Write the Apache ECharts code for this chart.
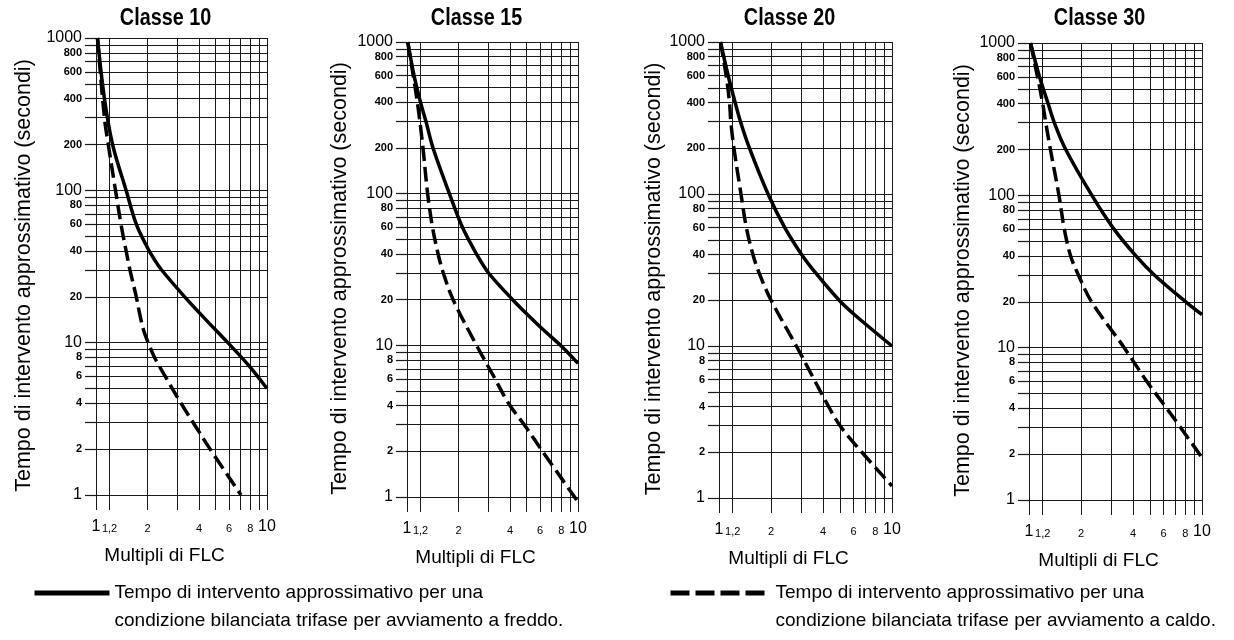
<!DOCTYPE html>
<html>
<head>
<meta charset="utf-8">
<script src="https://cdn.jsdelivr.net/npm/echarts@6/dist/echarts.min.js"></script>
<style>
  html, body { margin: 0; padding: 0; background: #fff; }
  #main { width: 1234px; height: 640px; }
</style>
</head>
<body>
<div id="main"></div>
<script>
// titoli dei pannelli
var classi = ['Classe 10', 'Classe 15', 'Classe 20', 'Classe 30'];

// curve: [multipli di FLC, secondi]
var classe10Freddo = [[1.02,1000],[1.12,400],[1.25,200],[1.5,100],[1.72,60],[2.0,42],[2.2,35],[2.42,30],[3.3,20],[4.3,14.5],[5.9,10],[7.9,7],[10,5]];
var classe10Caldo  = [[1.02,1000],[1.12,300],[1.18,200],[1.30,100],[1.40,60],[1.50,40],[1.58,30],[1.72,20],[1.80,15.5],[1.90,12],[2.02,10],[2.2,8],[2.5,6.2],[3.1,4.1],[3.8,2.85],[4.65,2.0],[7.05,1]];

var classe15Freddo = [[1.01,1000],[1.1,600],[1.2,400],[1.29,300],[1.42,200],[1.77,100],[2.11,60],[2.55,40],[3.0,30],[4.15,20],[5.2,15.5],[6.2,12.8],[7.9,10],[10,7.6]];
var classe15Caldo  = [[1.01,1000],[1.15,400],[1.24,200],[1.32,100],[1.41,60],[1.52,40],[1.63,30],[1.86,20],[2.55,10],[3.2,6.3],[3.95,4.1],[4.95,2.9],[6.2,2],[10,0.93]];

var classe20Freddo = [[1.02,1000],[1.13,600],[1.24,400],[1.33,300],[1.50,200],[1.92,100],[2.4,60],[3.0,40],[3.64,30],[4.95,20],[6.1,16],[10,10]];
var classe20Caldo  = [[1.02,1000],[1.1,600],[1.15,400],[1.17,300],[1.22,200],[1.34,100],[1.44,60],[1.57,40],[1.71,30],[2.0,20],[2.8,10],[3.5,6.2],[4.2,4.2],[5.0,3.0],[6.7,2.0],[10,1.2]];

var classe30Freddo = [[1.02,1000],[1.15,600],[1.29,400],[1.40,300],[1.63,200],[2.31,100],[3.1,60],[4.15,40],[5.3,30],[8.05,20],[10,16.5]];
var classe30Caldo  = [[1.02,1000],[1.12,600],[1.2,400],[1.25,300],[1.33,200],[1.49,100],[1.60,60],[1.74,40],[1.93,30],[2.3,20],[3.55,10],[4.8,6],[6.25,4],[7.5,3],[10,1.9]];

var curveFreddo = [classe10Freddo, classe15Freddo, classe20Freddo, classe30Freddo];
var curveCaldo  = [classe10Caldo, classe15Caldo, classe20Caldo, classe30Caldo];

// linee della griglia ed etichette degli assi
var xGriglia   = [1, 1.2, 2, 3, 4, 5, 6, 7, 8, 9, 10];
var xEtichette = [1, 1.2, 2, 4, 6, 8, 10];
var yGriglia   = [1,2,3,4,5,6,7,8,9,10,20,30,40,50,60,70,80,90,100,200,300,400,500,600,700,800,900,1000];
var yEtichette = [1,2,4,6,8,10,20,40,60,80,100,200,400,600,800,1000];
var yPrincipali = [1, 10, 100, 1000];

var testoFreddo = 'Tempo di intervento approssimativo per una\ncondizione bilanciata trifase per avviamento a freddo.';
var testoCaldo  = 'Tempo di intervento approssimativo per una\ncondizione bilanciata trifase per avviamento a caldo.';

// posizione dei quattro pannelli
var pannelli = [
    {left: 96,   top: 38, width: 171, height: 457, nameGap: 61},
    {left: 407,  top: 42, width: 171, height: 455, nameGap: 56},
    {left: 719,  top: 42, width: 173, height: 456, nameGap: 54},
    {left: 1029, top: 43, width: 173, height: 457, nameGap: 55}
];

var FONT = "'Liberation Sans', Arial, sans-serif";
var LINEA = '#1a1a1a';

var myChart = echarts.init(document.getElementById('main'), null, {renderer: 'canvas'});

var grids = [], xAxes = [], yAxes = [], series = [], graphics = [];

pannelli.forEach(function (p, i) {
    grids.push({left: p.left, top: p.top, width: p.width, height: p.height, containLabel: false});

    xAxes.push({
        type: 'log', logBase: 10, min: 1, max: 10, gridIndex: i,
        name: 'Multipli di FLC', nameLocation: 'middle', nameGap: 51,
        nameTextStyle: {fontFamily: FONT, fontSize: 19, color: '#000', padding: [0, 34, 0, 0]},
        axisLine: {show: false},
        axisTick: {show: true, length: 15, customValues: xGriglia, lineStyle: {color: LINEA, width: 1}},
        splitLine: {show: true, lineStyle: {color: LINEA, width: 1}},
        axisLabel: {
            customValues: xEtichette, margin: 23, color: '#000', fontFamily: FONT,
            formatter: function (v) {
                var t = String(v).replace('.', ',');
                return (v === 1 || v === 10) ? '{b|' + t + '}' : '{s|' + t + '}';
            },
            rich: {
                b: {fontSize: 16, fontFamily: FONT, color: '#000', lineHeight: 18},
                s: {fontSize: 11, fontFamily: FONT, color: '#000', lineHeight: 18, padding: [4, 0, 0, 0]}
            }
        }
    });

    yAxes.push({
        type: 'log', logBase: 10, min: 1, max: 1000, gridIndex: i,
        name: 'Tempo di intervento approssimativo (secondi)', nameLocation: 'middle', nameGap: p.nameGap,
        nameTextStyle: {fontFamily: FONT, fontSize: 21.5, color: '#000', padding: [0, 18, 0, 0]},
        axisLine: {show: false},
        axisTick: {show: true, length: 11, customValues: yGriglia, lineStyle: {color: LINEA, width: 1.2}},
        splitLine: {show: true, lineStyle: {color: LINEA, width: 1.2}},
        axisLabel: {
            customValues: yEtichette, margin: 14, color: '#000', fontFamily: FONT,
            formatter: function (v) {
                return yPrincipali.indexOf(v) >= 0 ? '{b|' + v + '}' : '{s|' + v + '}';
            },
            rich: {
                b: {fontSize: 16, fontFamily: FONT, color: '#000'},
                s: {fontSize: 11, fontFamily: FONT, color: '#000', fontWeight: 'bold'}
            }
        }
    });

    series.push({
        name: 'freddo', type: 'line', xAxisIndex: i, yAxisIndex: i,
        data: curveFreddo[i], symbol: 'none', smooth: 0.35, clip: false,
        itemStyle: {color: '#000'},
        lineStyle: {color: '#000', width: 3.5}
    });
    series.push({
        name: 'caldo', type: 'line', xAxisIndex: i, yAxisIndex: i,
        data: curveCaldo[i], symbol: 'none', smooth: 0.35, clip: false,
        itemStyle: {color: '#000'},
        lineStyle: {color: '#000', width: 3.5, type: [15, 6]}
    });

    // titolo del pannello (carattere stretto come nell'originale)
    graphics.push({
        type: 'text', x: p.left + p.width / 2 - 16, y: 19, scaleX: 0.86, silent: true,
        style: {
            text: classi[i], align: 'center', verticalAlign: 'middle',
            font: "bold 23px 'Liberation Sans', Arial, sans-serif", fill: '#000'
        }
    });
});

var testoLegenda = {fontFamily: FONT, fontSize: 19, color: '#000', lineHeight: 28};

myChart.setOption({
    animation: false,
    backgroundColor: '#fff',
    grid: grids,
    xAxis: xAxes,
    yAxis: yAxes,
    series: series,
    graphic: graphics,
    legend: [
        {
            data: ['freddo'], left: 27, top: 546, itemWidth: 75, itemHeight: 14,
            selectedMode: false,
            itemStyle: {opacity: 0},
            lineStyle: {color: '#000', width: 5, type: 'solid'},
            formatter: function () { return ' \n' + testoFreddo; },
            textStyle: testoLegenda
        },
        {
            data: ['caldo'], left: 663, top: 546, itemWidth: 100, itemHeight: 14,
            selectedMode: false,
            itemStyle: {opacity: 0},
            lineStyle: {color: '#000', width: 5, type: [19, 6]},
            formatter: function () { return ' \n' + testoCaldo; },
            textStyle: testoLegenda
        }
    ]
});
</script>
</body>
</html>
